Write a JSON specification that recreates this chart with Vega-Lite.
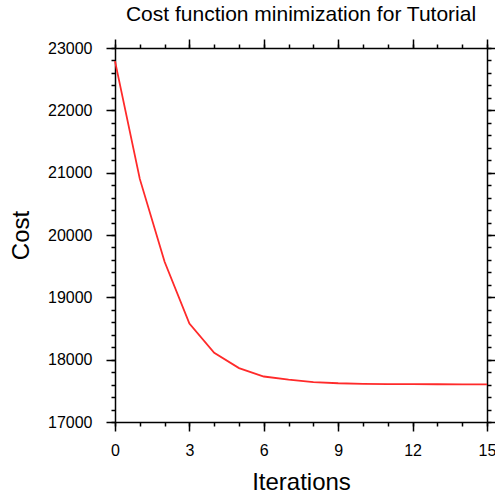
{
  "$schema": "https://vega.github.io/schema/vega-lite/v6.json",
  "autosize": "none",
  "width": 372,
  "height": 374,
  "padding": {"left": 115, "top": 48, "right": 8, "bottom": 74},
  "background": "white",
  "view": {"stroke": null},
  "config": {
    "font": "Liberation Sans",
    "axis": {"grid": false, "domainColor": "#000000", "domainWidth": 1.5, "tickColor": "#000000", "tickWidth": 1.5, "labelColor": "#000000", "labelFont": "Liberation Sans", "labelFontSize": 16, "titleFont": "Liberation Sans", "titleFontSize": 24, "titleFontWeight": "normal", "titleColor": "#000000", "format": "d"}
  },
  "title": {"text": "Cost function minimization for Tutorial", "font": "Liberation Sans", "fontSize": 21, "fontWeight": "normal", "color": "#000000", "anchor": "middle", "offset": 13},
  "data": {"values": [
    {"iter": 0, "cost": 22790},
    {"iter": 1, "cost": 20900},
    {"iter": 2, "cost": 19570},
    {"iter": 3, "cost": 18580},
    {"iter": 4, "cost": 18110},
    {"iter": 5, "cost": 17865},
    {"iter": 6, "cost": 17730},
    {"iter": 7, "cost": 17680},
    {"iter": 8, "cost": 17640},
    {"iter": 9, "cost": 17622},
    {"iter": 10, "cost": 17613},
    {"iter": 11, "cost": 17609},
    {"iter": 12, "cost": 17607},
    {"iter": 13, "cost": 17606},
    {"iter": 14, "cost": 17605},
    {"iter": 15, "cost": 17605}
  ]},
  "resolve": {"axis": {"x": "independent", "y": "independent"}},
  "layer": [
    {
      "mark": {"type": "line", "strokeOpacity": 0},
      "encoding": {
        "x": {"field": "iter", "type": "quantitative", "scale": {"domain": [0, 15], "nice": false, "zero": false},
              "axis": {"orient": "bottom", "values": [0,1,2,3,4,5,6,7,8,9,10,11,12,13,14,15], "tickSize": 4, "labels": false, "domain": false, "title": null}},
        "y": {"field": "cost", "type": "quantitative", "scale": {"domain": [17000, 23000], "nice": false, "zero": false},
              "axis": {"orient": "left", "values": [17000,17200,17400,17600,17800,18000,18200,18400,18600,18800,19000,19200,19400,19600,19800,20000,20200,20400,20600,20800,21000,21200,21400,21600,21800,22000,22200,22400,22600,22800,23000], "tickSize": 4, "labels": false, "domain": false, "title": null}}
      }
    },
    {
      "mark": {"type": "line", "strokeOpacity": 0},
      "encoding": {
        "x": {"field": "iter", "type": "quantitative",
              "axis": {"orient": "top", "values": [0,1,2,3,4,5,6,7,8,9,10,11,12,13,14,15], "tickSize": 4, "labels": false, "domain": false, "title": null}},
        "y": {"field": "cost", "type": "quantitative",
              "axis": {"orient": "right", "values": [17000,17200,17400,17600,17800,18000,18200,18400,18600,18800,19000,19200,19400,19600,19800,20000,20200,20400,20600,20800,21000,21200,21400,21600,21800,22000,22200,22400,22600,22800,23000], "tickSize": 4, "labels": false, "domain": false, "title": null}}
      }
    },
    {
      "mark": {"type": "line", "strokeOpacity": 0},
      "encoding": {
        "x": {"field": "iter", "type": "quantitative",
              "axis": {"orient": "top", "values": [0,3,6,9,12,15], "tickSize": 9, "labels": false, "title": null}},
        "y": {"field": "cost", "type": "quantitative",
              "axis": {"orient": "right", "values": [17000,18000,19000,20000,21000,22000,23000], "tickSize": 9, "labels": false, "title": null}}
      }
    },
    {
      "mark": {"type": "line", "color": "#ff2a2a", "strokeWidth": 1.8},
      "encoding": {
        "x": {"field": "iter", "type": "quantitative",
              "axis": {"orient": "bottom", "values": [0,3,6,9,12,15], "tickSize": 9, "labelPadding": 11, "title": "Iterations", "titlePadding": 12, "labelFlush": false}},
        "y": {"field": "cost", "type": "quantitative",
              "axis": {"orient": "left", "values": [17000,18000,19000,20000,21000,22000,23000], "tickSize": 9, "labelPadding": 14, "title": "Cost", "titlePadding": 14, "labelFlush": false}}
      }
    }
  ]
}
